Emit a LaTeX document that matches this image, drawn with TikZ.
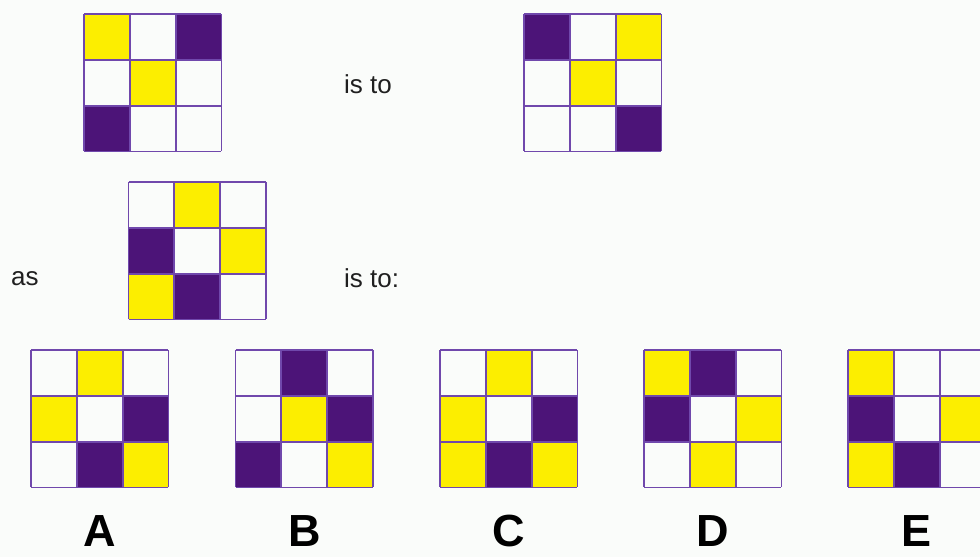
\documentclass[tikz,border=0pt]{standalone}
\usepackage{fontspec}
\setmainfont{Liberation Sans}
\definecolor{yel}{RGB}{252,238,0}
\definecolor{pur}{RGB}{76,20,120}
\definecolor{wht}{RGB}{250,252,250}
\definecolor{gline}{RGB}{112,72,172}
\newcommand{\drawgridpuzzle}[3]{% #1 x, #2 y, #3 list of nine colours
  \foreach \c [count=\i from 0] in {#3} {
    \pgfmathtruncatemacro\rr{div(\i,3)}
    \pgfmathtruncatemacro\qq{mod(\i,3)}
    \fill[\c] ({#1+\qq*45.8},{#2+\rr*45.8}) rectangle ++(45.8,45.8);
  }
  \foreach \k in {0,1,2,3} {
    \draw[gline,line width=1.8pt] ({#1+\k*45.8},{#2}) -- ++(0,137.4);
    \draw[gline,line width=1.8pt] ({#1},{#2+\k*45.8}) -- ++(137.4,0);
  }
}
\tikzset{
  wordtext/.style={font=\fontsize{26}{30}\selectfont, inner sep=0pt, anchor=base west, text=black!88},
  lettertext/.style={font=\fontsize{45}{47}\selectfont\bfseries, inner sep=0pt, text depth=0pt, anchor=base, text=black}
}
\begin{document}
\begin{tikzpicture}[x=1pt,y=-1pt]
\fill[wht] (0,0) rectangle (980,557);
\useasboundingbox (0,0) rectangle (980,557);
\clip (0,0) rectangle (980,557);
% question grids
\drawgridpuzzle{84}{14}{yel,wht,pur,wht,yel,wht,pur,wht,wht}
\drawgridpuzzle{524}{14}{pur,wht,yel,wht,yel,wht,wht,wht,pur}
\drawgridpuzzle{128.5}{182}{wht,yel,wht,pur,wht,yel,yel,pur,wht}
% answer grids
\drawgridpuzzle{31}{350}{wht,yel,wht,yel,wht,pur,wht,pur,yel}
\drawgridpuzzle{235.5}{350}{wht,pur,wht,wht,yel,pur,pur,wht,yel}
\drawgridpuzzle{440}{350}{wht,yel,wht,yel,wht,pur,yel,pur,yel}
\drawgridpuzzle{644}{350}{yel,pur,wht,pur,wht,yel,wht,yel,wht}
\drawgridpuzzle{848}{350}{yel,wht,wht,pur,wht,yel,yel,pur,wht}
% words
\node[wordtext] (isto1) at (344,93) {is to};
\node[wordtext] (as) at (11,285) {as};
\node[wordtext] (isto2) at (344,287) {is to:};
% letters
\node[lettertext] (la) at (100,546) {A};
\node[lettertext] (lb) at (304.5,546) {B};
\node[lettertext] (lc) at (508.5,546) {C};
\node[lettertext] (ld) at (712.5,546) {D};
\node[lettertext] (le) at (916.5,546) {E};
\end{tikzpicture}
\end{document}
